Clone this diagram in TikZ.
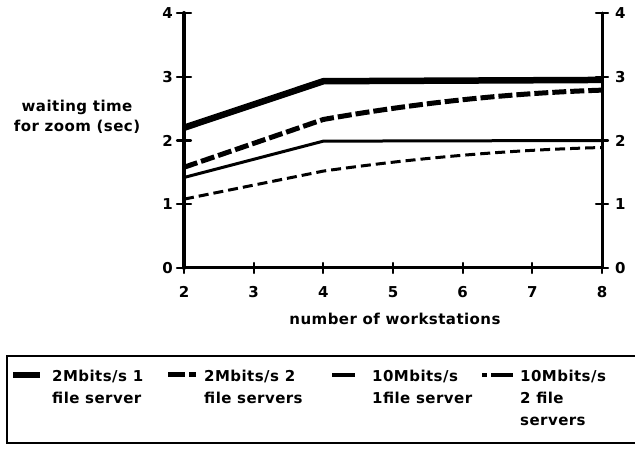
\documentclass[tikz,border=0pt]{standalone}
\usepackage{fontspec}
\setmainfont{DejaVu Sans}[LetterSpace=3]
\begin{document}
\begin{tikzpicture}[x=1pt,y=-1pt,
  lbl/.style={font=\bfseries\fontsize{15}{20}\selectfont, inner sep=0pt},
  legtext/.style={font=\bfseries\fontsize{15}{22}\selectfont, inner sep=0pt, align=left, anchor=north west},
  axisline/.style={line width=3pt, line cap=round},
  leftaxis/.style={line width=4pt, line cap=round},
  tickmark/.style={line width=2.2pt, line cap=round},
  seriesA/.style={line width=6.5pt, line join=round},
  seriesB/.style={line width=5pt, dash pattern=on 14pt off 4pt},
  seriesC/.style={line width=3pt, line join=round},
  seriesD/.style={line width=3pt, dash pattern=on 10pt off 5pt},
]
\useasboundingbox (0,0) rectangle (635,449);

% ---- plot area: x = workstations - 2, y = seconds ----
\begin{scope}[shift={(184,268)}, x=69.67pt, y=63.75pt]
  \coordinate (origin) at (0,0);
  \coordinate (ltop) at (0,4);
  \coordinate (rbot) at (6,0);
  \coordinate (rtop) at (6,4);

  % axes
  \draw[leftaxis] (ltop) -- (origin);
  \draw[axisline] (origin) -- (rbot);
  \draw[axisline] (rtop) -- (rbot);

  % left ticks and labels
  \foreach \v in {0,...,4} {
    \draw[tickmark] ([xshift=-7pt]0,\v) -- ([xshift=7pt]0,\v);
    \node[lbl, anchor=east] (yl\v) at ([xshift=-11pt]0,\v) {\v};
  }
  % right ticks and labels
  \foreach \v in {0,...,4} {
    \draw[tickmark] ([xshift=-6pt]6,\v) -- ([xshift=6pt]6,\v);
    \node[lbl, anchor=west] (yr\v) at ([xshift=13pt]6,\v) {\v};
  }
  % bottom ticks and labels
  \foreach \n [evaluate=\n as \k using int(\n+2)] in {0,...,6} {
    \draw[tickmark] ([yshift=-5pt]\n,0) -- ([yshift=5pt]\n,0);
    \node[lbl, anchor=north] (xl\n) at ([yshift=-18pt]\n,0) {\k};
  }

  % data series
  \draw[seriesA] (0,2.2) -- (2,2.93) -- (6,2.95);
  \draw[seriesB] (0,1.58) -- (2,2.33) .. controls (3.3,2.58) and (4.6,2.74) .. (6,2.79);
  \draw[seriesC] (0,1.42) -- (2,1.99) -- (6,2.0);
  \draw[seriesD] (0,1.08) -- (2,1.52) .. controls (3.3,1.72) and (4.6,1.85) .. (6,1.89);
\end{scope}

% axis titles
\node[lbl, align=center] (ytitle) at (77,117) {waiting time\\for zoom (sec)};
\node[lbl] (xtitle) at (395,319) {number of workstations};

% ---- legend ----
\draw[line width=2.5pt] (645,356) -- (7,356) -- (7,443) -- (645,443);

\coordinate (s1a) at (13,375);  \coordinate (s1b) at (40,375);
\coordinate (s2a) at (168,374); \coordinate (s2b) at (196,374);
\coordinate (s3a) at (332,375); \coordinate (s3b) at (355,375);
\coordinate (s4a) at (482,375); \coordinate (s4b) at (513,375);

\draw[line width=5.5pt] (s1a) -- (s1b);
\draw[line width=5pt, dash pattern=on 17pt off 4pt] (s2a) -- (s2b);
\draw[line width=4pt] (s3a) -- (s3b);
\draw[line width=3.5pt, dash pattern=on 5pt off 4pt on 30pt] (s4a) -- (s4b);

\node[legtext] (t1) at (52,370) {2Mbits/s 1\\file server};
\node[legtext] (t2) at (204,370) {2Mbits/s 2\\file servers};
\node[legtext] (t3) at (372,370) {10Mbits/s\\1file server};
\node[legtext] (t4) at (520,370) {10Mbits/s\\2 file\\servers};
\end{tikzpicture}
\end{document}
